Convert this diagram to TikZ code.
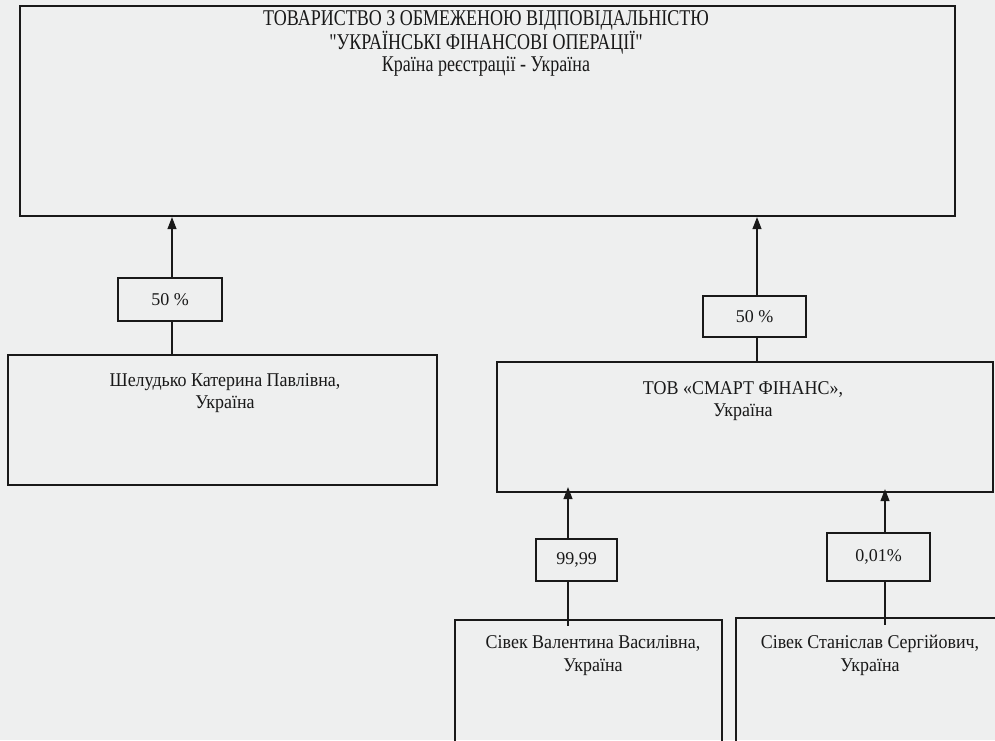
\documentclass[tikz,border=0pt]{standalone}
\usepackage{fontspec}
\setmainfont{Liberation Serif}
\newfontfamily\condserif[FakeStretch=0.8]{Liberation Serif}
\newfontfamily\narrowserif[FakeStretch=0.92]{Liberation Serif}
\usetikzlibrary{arrows.meta}
\definecolor{paper}{RGB}{238,239,239}
\definecolor{ink}{RGB}{25,25,25}
\tikzset{
  bigbox/.style={draw=ink, line width=2.2pt, rectangle, inner sep=0pt},
  pctbox/.style={draw=ink, line width=1.6pt, rectangle, inner sep=0pt, font=\fontsize{18}{20}\selectfont, text=ink},
  txt/.style={align=center, inner sep=0pt, text=ink, font=\narrowserif\fontsize{19.5}{22.5}\selectfont},
  toptxt/.style={align=center, inner sep=0pt, text=ink, font=\condserif\fontsize{22.5}{21.5}\selectfont},
  link/.style={draw=ink, line width=1.1pt},
  arr/.style={link, -{Triangle[length=12pt,width=9pt]}},
}
\begin{document}
\begin{tikzpicture}[x=1pt,y=-1pt]
\useasboundingbox (0,0) rectangle (995,740);
\clip (0,0) rectangle (995,740);
\fill[paper] (0,0) rectangle (995,740);
% boxes
\node[bigbox, minimum width=935pt, minimum height=210pt] (top) at (487.5,111) {};
\node[bigbox, minimum width=429pt, minimum height=130pt] (shel) at (222.5,420) {};
\node[bigbox, minimum width=496pt, minimum height=130pt] (smart) at (745,427) {};
\node[bigbox, minimum width=267pt, minimum height=150pt] (sv) at (588.5,695) {};
\node[bigbox, minimum width=280pt, minimum height=150pt] (ss) at (876,693) {};
% percentage boxes
\node[pctbox, minimum width=104pt, minimum height=43pt] (p1) at (170,299.5) {50 \%};
\node[pctbox, minimum width=103pt, minimum height=41pt] (p2) at (754.5,316.5) {50 \%};
\node[pctbox, minimum width=81pt, minimum height=42pt] (p3) at (576.5,560) {99,99};
\node[pctbox, minimum width=103pt, minimum height=48pt] (p4) at (878.5,557) {0,01\%};
% texts
\node[toptxt] (toptext) at (486,43.5) {ТОВАРИСТВО З ОБМЕЖЕНОЮ ВІДПОВІДАЛЬНІСТЮ\\"УКРАЇНСЬКІ ФІНАНСОВІ ОПЕРАЦІЇ"\\Країна реєстрації - Україна};
\node[txt] (sheltext) at (225,393) {Шелудько Катерина Павлівна,\\Україна};
\node[txt] (smarttext) at (743,401) {ТОВ «СМАРТ ФІНАНС»,\\Україна};
\node[txt] (svtext) at (593,655.5) {Сівек Валентина Василівна,\\Україна};
\node[txt] (sstext) at (870,655.5) {Сівек Станіслав Сергійович,\\Україна};
% connector columns
\coordinate (c1) at (172,0);
\coordinate (c2) at (757,0);
\coordinate (c3) at (568,0);
\coordinate (c4) at (885,0);
% connectors
\draw[link] (shel.north -| c1) -- (p1.south -| c1);
\draw[arr] (p1.north -| c1) -- (top.south -| c1);
\draw[link] (smart.north -| c2) -- (p2.south -| c2);
\draw[arr] (p2.north -| c2) -- (top.south -| c2);
\draw[link] ([yshift=-7pt]sv.north -| c3) -- (p3.south -| c3);
\draw[arr] (p3.north -| c3) -- ([yshift=6pt]smart.south -| c3);
\draw[link] ([yshift=-8pt]ss.north -| c4) -- (p4.south -| c4);
\draw[arr] (p4.north -| c4) -- ([yshift=4pt]smart.south -| c4);
\end{tikzpicture}
\end{document}
